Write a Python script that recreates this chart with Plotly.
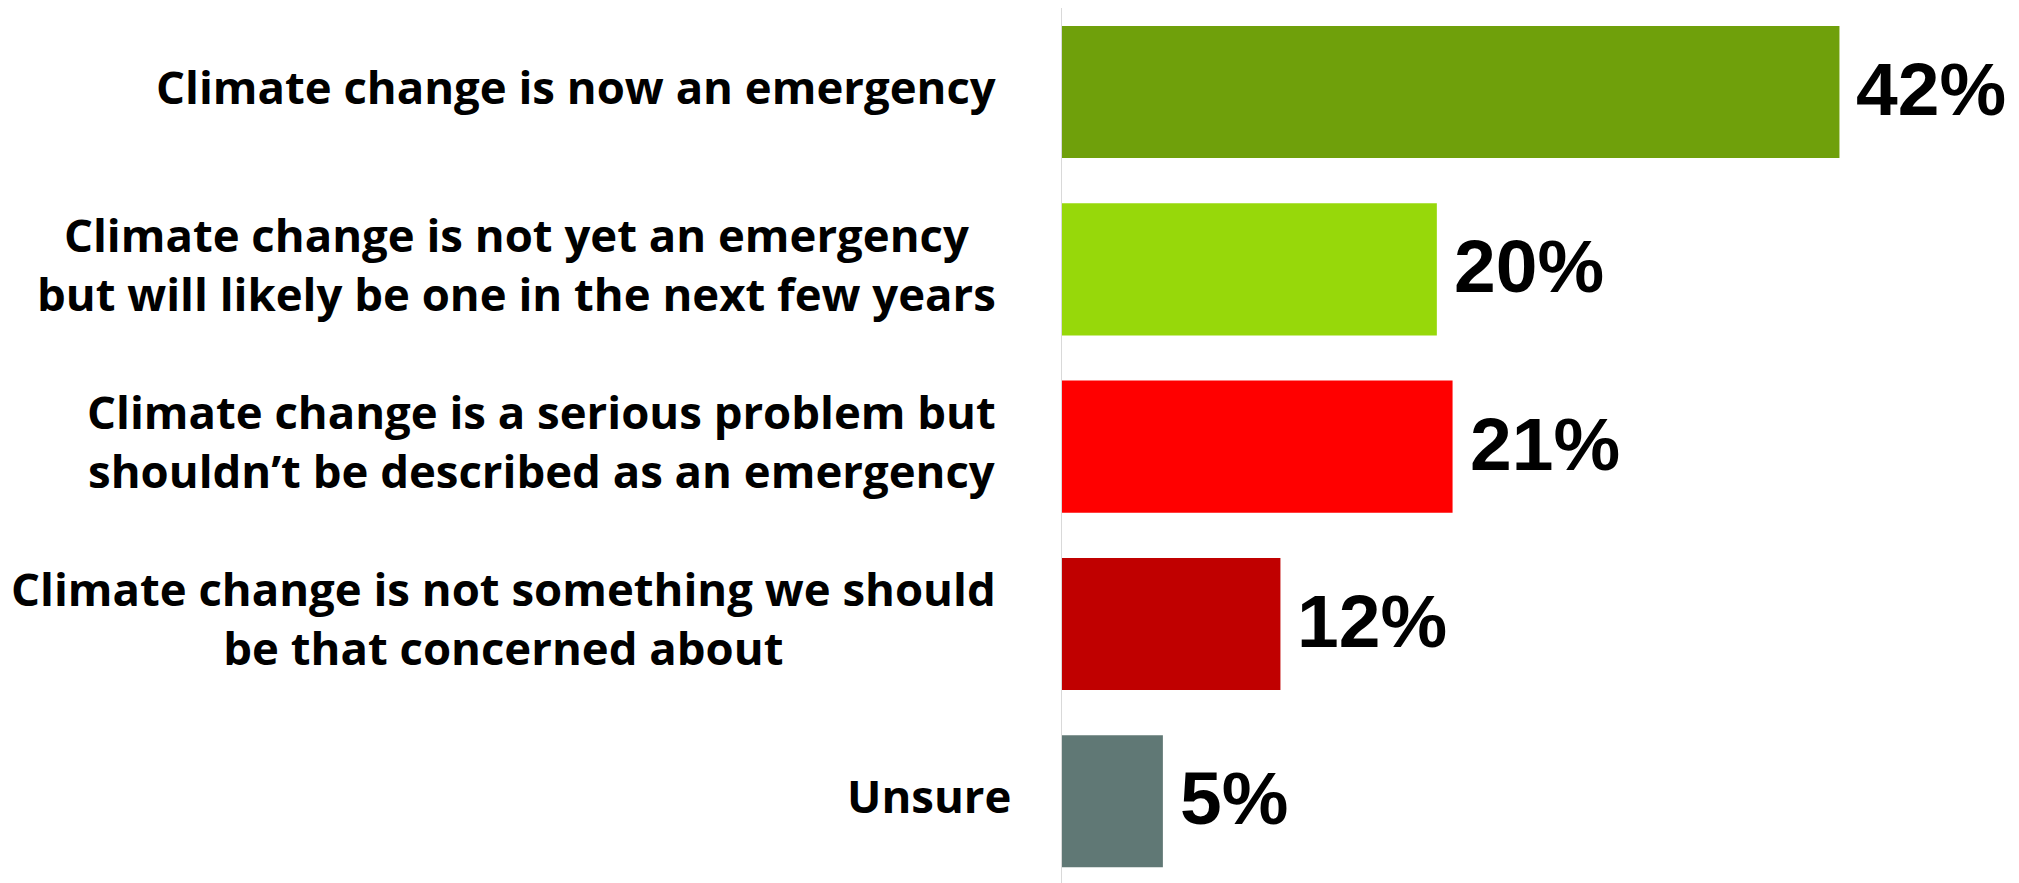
import plotly.graph_objects as go

categories = [
    "Climate change is now an emergency",
    "Climate change is not yet an emergency<br>but will likely be one in the next few years",
    "Climate change is a serious problem but<br>shouldn’t be described as an emergency",
    "Climate change is not something we should<br>be that concerned about",
    "Unsure",
]
values = [42, 20.25, 21.1, 11.8, 5.45]
value_labels = ["42%", "20%", "21%", "12%", "5%"]
colors = ["#6fa00b", "#97d80a", "#ff0000", "#c00000", "#607875"]
label_shift = [-64, -64, -64, -64, -49]

fig = go.Figure()
fig.add_trace(go.Bar(
    x=values,
    y=list(range(len(categories))),
    orientation="h",
    marker=dict(color=colors, line=dict(width=0)),
    width=0.745,
    hoverinfo="skip",
))

for i, (cat, sh) in enumerate(zip(categories, label_shift)):
    fig.add_annotation(
        x=0, y=i, xref="x", yref="y",
        text=cat, showarrow=False,
        xanchor="right", yanchor="middle", align="center",
        xshift=sh, yshift=6,
        font=dict(family="Open Sans", size=45.5, color="#000000", weight="bold"),
    )

for i, (v, lab) in enumerate(zip(values, value_labels)):
    fig.add_annotation(
        x=v, y=i, xref="x", yref="y",
        text=lab, showarrow=False,
        xanchor="left", yanchor="middle",
        xshift=15, yshift=3,
        font=dict(family="Liberation Sans", size=75, color="#000000", weight="bold"),
    )

fig.update_layout(
    width=2011, height=875,
    margin=dict(l=1054, r=0, t=0, b=0),
    plot_bgcolor="white", paper_bgcolor="white",
    showlegend=False,
    xaxis=dict(range=[0, 51.7], visible=False, showgrid=False, zeroline=False),
    yaxis=dict(range=[4.461, -0.474], showticklabels=False, showgrid=False,
               zeroline=False, showline=True, linecolor="#d9d9d9", linewidth=1,
               ticks=""),
)

fig.write_html("out.html")
